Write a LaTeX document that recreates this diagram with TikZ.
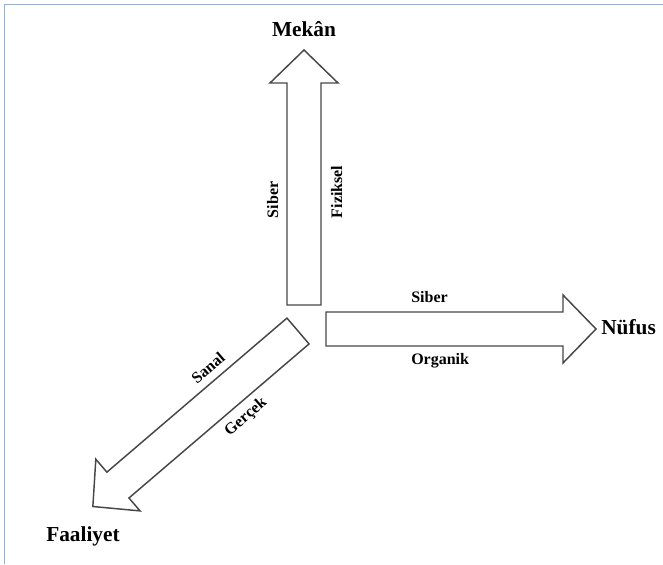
\documentclass[tikz,border=0pt]{standalone}
\usepackage{fontspec}
\setmainfont{Liberation Serif}
\definecolor{framecol}{RGB}{150,176,206}
\begin{document}
\begin{tikzpicture}[x=0.75pt,y=0.75pt,
  arrowline/.style={draw=black!72, line width=1.1pt, line join=miter},
  axislabel/.style={font=\fontsize{16}{19}\selectfont\bfseries, inner sep=0pt},
  sidelabel/.style={font=\fontsize{12}{14}\selectfont\bfseries, inner sep=0pt},
  pics/bigarrow/.style={code={
    \draw[arrowline] (0,-17) -- (#1,-17) -- (#1,-34) -- (#1+33,0) -- (#1,34) -- (#1,17) -- (0,17) -- cycle;}}
]
\useasboundingbox (0,0) rectangle (663,564);
% frame lines on the top and left
\draw[framecol, line width=0.8pt] (4.5,0) -- (4.5,559.5) -- (663,559.5);

% the three block arrows
\pic[rotate=90] at (304,259) {bigarrow=222};
\pic at (326,235) {bigarrow=237};
\pic[rotate=220.55] at (298,233) {bigarrow=237};

% axis names
\node[axislabel, anchor=base] (mekan) at (304,527) {Mekân};
\node[axislabel, anchor=base west] (nufus) at (601,229) {Nüfus};
\node[axislabel, anchor=base west] (faaliyet) at (46,23) {Faaliyet};

% labels beside the arrows
\node[sidelabel, anchor=base west] (nsiber) at (411,261) {Siber};
\node[sidelabel, anchor=base west] (norganik) at (411,199) {Organik};
\node[sidelabel, rotate=90, anchor=base] (msiber) at (278,364) {Siber};
\node[sidelabel, rotate=90, anchor=base] (mfiziksel) at (342,372) {Fiziksel};
\node[sidelabel, rotate=40.55] (fsanal) at (208,196) {Sanal};
\node[sidelabel, rotate=40.55] (fgercek) at (246,147) {Gerçek};
\end{tikzpicture}
\end{document}
